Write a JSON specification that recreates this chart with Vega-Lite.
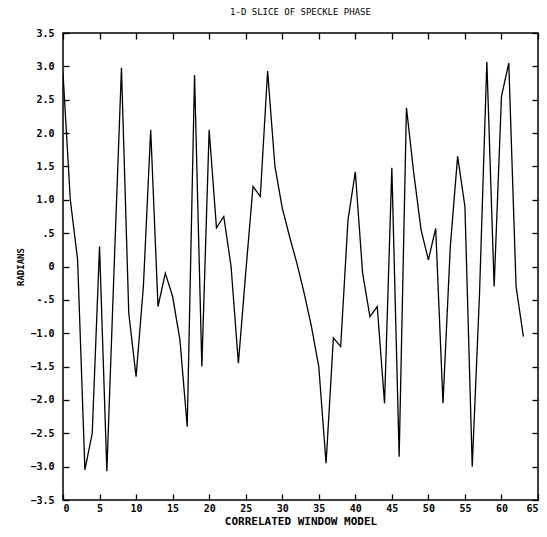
{
  "$schema": "https://vega.github.io/schema/vega-lite/v6.json",
  "autosize": "none",
  "width": 475,
  "height": 467,
  "padding": {"left": 63, "top": 33, "right": 9, "bottom": 37},
  "background": "white",
  "title": {"text": "1-D SLICE OF SPECKLE PHASE", "font": "DejaVu Sans Mono", "fontSize": 9, "fontWeight": "normal", "color": "black", "offset": 11, "anchor": "middle"},
  "config": {
    "view": {"stroke": "black", "strokeWidth": 1.5},
    "axis": {"grid": false, "domain": false, "offset": -6, "tickColor": "black", "tickSize": 6, "tickWidth": 1.3, "labelColor": "black", "labelFont": "DejaVu Sans Mono", "labelFontWeight": "bold", "labelFontSize": 10, "titleFont": "DejaVu Sans Mono", "titleFontWeight": "bold", "titleFontSize": 10, "titleColor": "black"}
  },
  "data": {"values": [
    {"x": 0, "y": 2.9}, {"x": 1, "y": 1.0}, {"x": 2, "y": 0.1}, {"x": 3, "y": -3.05},
    {"x": 4, "y": -2.5}, {"x": 5, "y": 0.3}, {"x": 6, "y": -3.07}, {"x": 7, "y": 0.0},
    {"x": 8, "y": 2.98}, {"x": 9, "y": -0.7}, {"x": 10, "y": -1.65}, {"x": 11, "y": -0.3},
    {"x": 12, "y": 2.05}, {"x": 13, "y": -0.6}, {"x": 14, "y": -0.1}, {"x": 15, "y": -0.45},
    {"x": 16, "y": -1.1}, {"x": 17, "y": -2.4}, {"x": 18, "y": 2.87}, {"x": 19, "y": -1.5},
    {"x": 20, "y": 2.05}, {"x": 21, "y": 0.58}, {"x": 22, "y": 0.75}, {"x": 23, "y": 0.0},
    {"x": 24, "y": -1.45}, {"x": 25, "y": -0.1}, {"x": 26, "y": 1.2}, {"x": 27, "y": 1.05},
    {"x": 28, "y": 2.93}, {"x": 29, "y": 1.5}, {"x": 30, "y": 0.88}, {"x": 31, "y": 0.45},
    {"x": 32, "y": 0.05}, {"x": 33, "y": -0.4}, {"x": 34, "y": -0.9}, {"x": 35, "y": -1.5},
    {"x": 36, "y": -2.95}, {"x": 37, "y": -1.07}, {"x": 38, "y": -1.2}, {"x": 39, "y": 0.7},
    {"x": 40, "y": 1.42}, {"x": 41, "y": -0.1}, {"x": 42, "y": -0.75}, {"x": 43, "y": -0.6},
    {"x": 44, "y": -2.05}, {"x": 45, "y": 1.48}, {"x": 46, "y": -2.85}, {"x": 47, "y": 2.38},
    {"x": 48, "y": 1.4}, {"x": 49, "y": 0.55}, {"x": 50, "y": 0.1}, {"x": 51, "y": 0.57},
    {"x": 52, "y": -2.05}, {"x": 53, "y": 0.3}, {"x": 54, "y": 1.65}, {"x": 55, "y": 0.9},
    {"x": 56, "y": -3.0}, {"x": 57, "y": -0.4}, {"x": 58, "y": 3.07}, {"x": 59, "y": -0.3},
    {"x": 60, "y": 2.55}, {"x": 61, "y": 3.05}, {"x": 62, "y": -0.3}, {"x": 63, "y": -1.05}
  ]},
  "layer": [
    {
      "mark": {"type": "line", "color": "black", "strokeWidth": 1.3, "clip": true},
      "encoding": {
        "x": {"field": "x", "type": "quantitative", "scale": {"domain": [0, 65], "nice": false, "zero": false},
              "axis": {"orient": "bottom", "values": [0,5,10,15,20,25,30,35,40,45,50,55,60,65], "title": "CORRELATED WINDOW MODEL", "titleFontSize": 11, "labelPadding": 3, "titlePadding": 2}},
        "y": {"field": "y", "type": "quantitative", "scale": {"domain": [-3.5, 3.5], "nice": false, "zero": false},
              "axis": {"orient": "left", "values": [-3.5,-3,-2.5,-2,-1.5,-1,-0.5,0,0.5,1,1.5,2,2.5,3,3.5], "title": "RADIANS", "titleFontSize": 9, "labelPadding": 9, "titlePadding": 4,
                       "labelExpr": "datum.value == 0 ? '0' : datum.value == 0.5 ? '.5' : datum.value == -0.5 ? '-.5' : format(datum.value, '.1f')"}}
      }
    },
    {
      "mark": {"type": "line", "opacity": 0},
      "encoding": {
        "x": {"field": "x", "type": "quantitative", "scale": {"domain": [0, 65], "nice": false, "zero": false},
              "axis": {"orient": "top", "values": [0,5,10,15,20,25,30,35,40,45,50,55,60,65], "labels": false, "title": null}},
        "y": {"field": "y", "type": "quantitative", "scale": {"domain": [-3.5, 3.5], "nice": false, "zero": false},
              "axis": {"orient": "right", "values": [-3.5,-3,-2.5,-2,-1.5,-1,-0.5,0,0.5,1,1.5,2,2.5,3,3.5], "labels": false, "title": null}}
      }
    }
  ],
  "resolve": {"axis": {"x": "independent", "y": "independent"}}
}
